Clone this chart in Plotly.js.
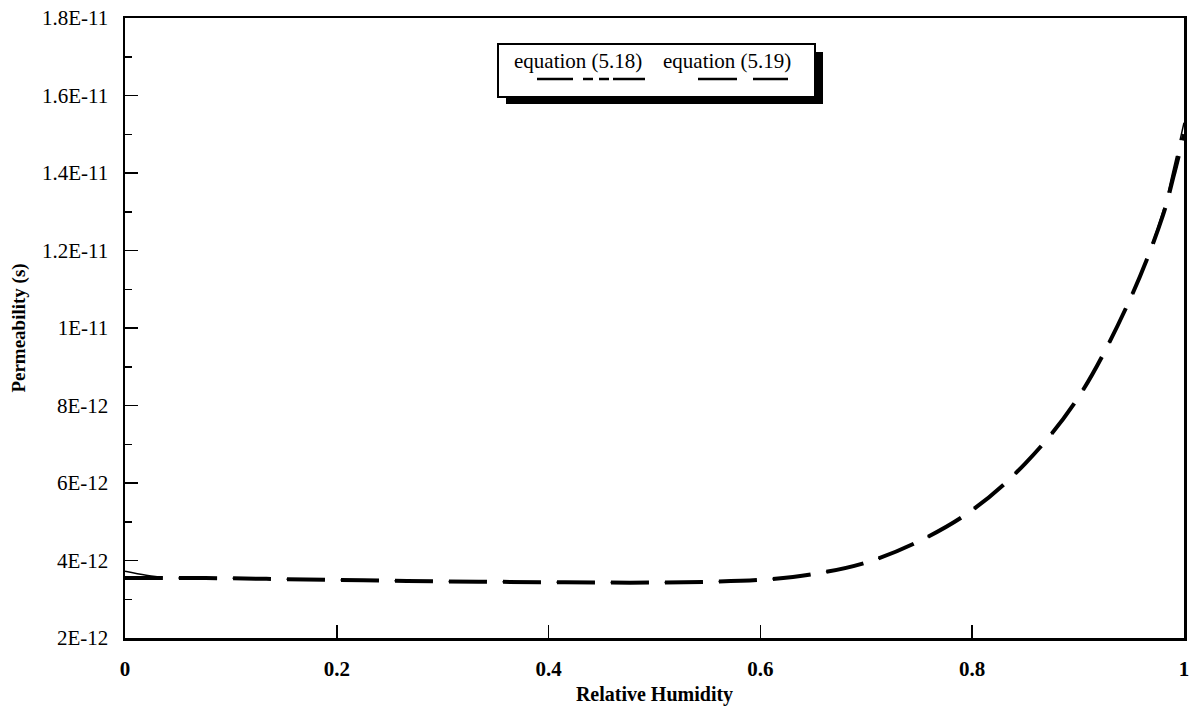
<!DOCTYPE html>
<html>
<head>
<meta charset="utf-8">
<script src="https://cdn.plot.ly/plotly-3.0.1.min.js"></script>
<style>html,body{margin:0;padding:0;background:#fff;}#chart{width:1191px;height:710px;}</style>
</head>
<body>
<div id="chart"></div>
<script>
// Relative humidity
var rh = [0, 0.02, 0.04, 0.1, 0.15, 0.2, 0.25, 0.3, 0.35, 0.4, 0.45, 0.5, 0.55, 0.6, 0.65, 0.7, 0.75, 0.8, 0.85, 0.9, 0.95, 0.98, 0.99, 1.0];
// Permeability, equation (5.18)
var eq518 = [3.72e-12, 3.62e-12, 3.56e-12, 3.54e-12, 3.52e-12, 3.5e-12, 3.48e-12, 3.46e-12, 3.45e-12, 3.44e-12, 3.43e-12, 3.43e-12, 3.45e-12, 3.5e-12, 3.65e-12, 3.95e-12, 4.5e-12, 5.3e-12, 6.5e-12, 8.2e-12, 1.08e-11, 1.3e-11, 1.41e-11, 1.53e-11];
// Permeability, equation (5.19)
var eq519 = [3.55e-12, 3.55e-12, 3.55e-12, 3.54e-12, 3.52e-12, 3.5e-12, 3.48e-12, 3.46e-12, 3.45e-12, 3.44e-12, 3.43e-12, 3.43e-12, 3.45e-12, 3.5e-12, 3.65e-12, 3.95e-12, 4.5e-12, 5.3e-12, 6.5e-12, 8.2e-12, 1.08e-11, 1.29e-11, 1.39e-11, 1.5e-11];
// Tick labels
var yTickVals = [2e-12, 4e-12, 6e-12, 8e-12, 1e-11, 1.2e-11, 1.4e-11, 1.6e-11, 1.8e-11];
var yTickText = ["2E-12", "4E-12", "6E-12", "8E-12", "1E-11", "1.2E-11", "1.4E-11", "1.6E-11", "1.8E-11"];
var xTickVals = [0, 0.2, 0.4, 0.6, 0.8, 1];
var xTickText = ["0", "0.2", "0.4", "0.6", "0.8", "1"];
// Legend entries
var seriesNames = ["equation (5.18)", "equation (5.19)"];

var serif = "Liberation Serif";

// page geometry helpers (plot area: x 125..1184, y 18..638)
var L = 125, R = 7, T = 18, B = 72, W = 1191, H = 710;
var PW = W - L - R, PH = H - T - B;
function px(x) { return (x - L) / PW; }
function py(y) { return (H - B - y) / PH; }

var dashCurve = "38px,16px";

var traces = [
  {x: rh, y: eq518, name: seriesNames[0], mode: "lines", showlegend: false,
   line: {color: "#000", width: 1.5, dash: dashCurve, shape: "spline"}},
  {x: rh, y: eq519, name: seriesNames[1], mode: "lines", showlegend: false,
   line: {color: "#000", width: 4, dash: dashCurve, shape: "spline"}}
];

// legend box (drawn with shapes, like the original boxed key with a drop shadow)
var shapes = [
  {type: "rect", xref: "paper", yref: "paper", x0: px(506), x1: px(823), y0: py(104), y1: py(52),
   fillcolor: "#000", line: {width: 0}, layer: "above"},
  {type: "rect", xref: "paper", yref: "paper", x0: px(498), x1: px(815), y0: py(97), y1: py(44),
   fillcolor: "#fff", line: {color: "#000", width: 2}, layer: "above"}
];
// key samples underneath the texts
var seg518 = [[537, 573], [583, 593], [599, 609], [613, 645]];
var seg519 = [[698, 737], [753, 788]];
seg518.concat(seg519).forEach(function (s) {
  shapes.push({type: "line", xref: "paper", yref: "paper", x0: px(s[0]), x1: px(s[1]), y0: py(79), y1: py(79),
               line: {color: "#000", width: 2.5}, layer: "above"});
});

var annotations = [
  {xref: "paper", yref: "paper", x: px(578), y: py(61), xanchor: "center", yanchor: "middle", showarrow: false,
   text: seriesNames[0], font: {family: serif, size: 21, color: "#000"}},
  {xref: "paper", yref: "paper", x: px(727), y: py(61), xanchor: "center", yanchor: "middle", showarrow: false,
   text: seriesNames[1], font: {family: serif, size: 21, color: "#000"}}
];

var layout = {
  width: W, height: H,
  margin: {l: L, r: R, t: T, b: B},
  paper_bgcolor: "#fff", plot_bgcolor: "#fff",
  font: {family: serif, color: "#000", size: 20},
  showlegend: false,
  xaxis: {
    range: [0, 1], tickvals: xTickVals, ticktext: xTickText,
    ticks: "inside", ticklen: 13, tickwidth: 1.5, tickcolor: "#000",
    showline: true, linecolor: "#000", linewidth: 2.5, mirror: true,
    showgrid: false, zeroline: false, ticklabelstandoff: 10, ticklabeloverflow: "allow",
    tickfont: {family: serif, size: 21, color: "#000", weight: "bold"},
    title: {text: "Relative Humidity", font: {family: serif, size: 20, color: "#000", weight: "bold"}, standoff: 8}
  },
  yaxis: {
    range: [2e-12, 1.8e-11], tickvals: yTickVals, ticktext: yTickText,
    ticks: "inside", ticklen: 13, tickwidth: 1.5, tickcolor: "#000",
    minor: {dtick: 1e-12, ticks: "inside", ticklen: 7, tickwidth: 1.5, tickcolor: "#000"},
    showline: true, linecolor: "#000", linewidth: 2.5, mirror: true,
    showgrid: false, zeroline: false, ticklabelstandoff: 10, ticklabeloverflow: "allow",
    tickfont: {family: serif, size: 21, color: "#000"},
    title: {text: "Permeability (s)", font: {family: serif, size: 19, color: "#000", weight: "bold"}, standoff: 12}
  },
  shapes: shapes,
  annotations: annotations
};

Plotly.newPlot("chart", traces, layout, {displayModeBar: false, staticPlot: true});
</script>
</body>
</html>
